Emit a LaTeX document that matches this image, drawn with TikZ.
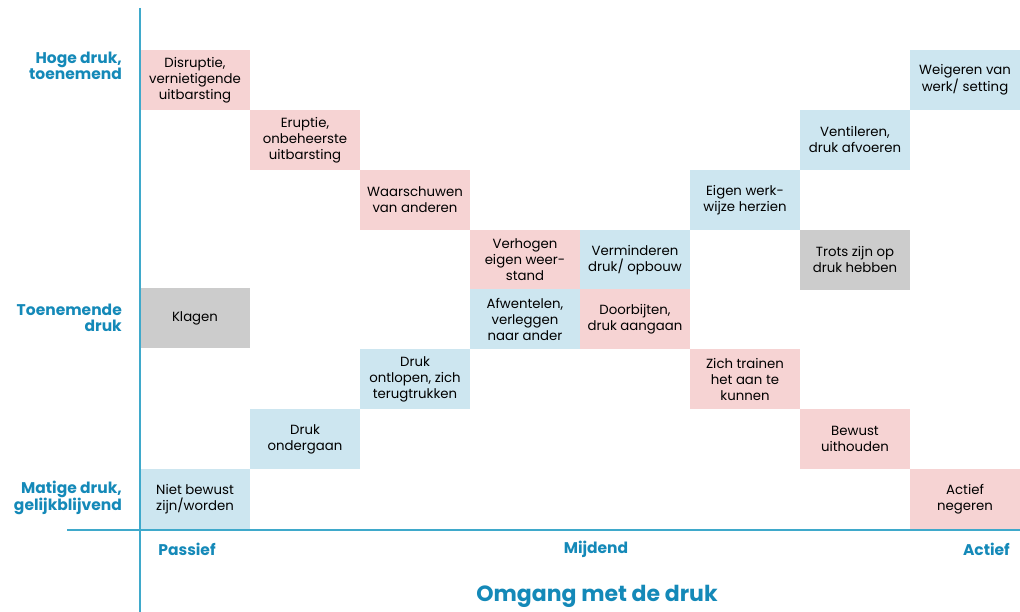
\documentclass[tikz,border=0pt]{standalone}
\usepackage{fontspec}
\setmainfont{Poppins}
\definecolor{cellpink}{HTML}{F6D3D3}
\definecolor{cellblue}{HTML}{CDE6F0}
\definecolor{cellgray}{HTML}{CCCCCC}
\definecolor{axisblue}{HTML}{3FA9CB}
\definecolor{labelblue}{HTML}{1489B8}
\tikzset{
  cell/.style={rectangle,minimum width=110pt,minimum height=60pt,inner sep=0pt,
    align=center,font=\fontsize{13.3}{16}\selectfont},
  pink/.style={cell,fill=cellpink},
  blue/.style={cell,fill=cellblue},
  gray/.style={cell,fill=cellgray},
  axislabel/.style={text=labelblue,font=\fontsize{15.5}{16}\selectfont\bfseries,inner sep=0pt}
}
\begin{document}
\begin{tikzpicture}[x=1pt,y=-1pt]
      \useasboundingbox (0,0) rectangle (1020,612);
      % cells
      \node [pink] (disruptie) at (195,80) {Disruptie,\\vernietigende\\uitbarsting};
      \node [pink] (eruptie) at (305,140) {Eruptie,\\onbeheerste\\uitbarsting};
      \node [pink] (waarschuwen) at (415,200) {Waarschuwen\\van anderen};
      \node [pink] (verhogen) at (525,260) {Verhogen\\eigen weer-\\stand};
      \node [blue] (verminderen) at (635,260) {Verminderen\\druk/ opbouw};
      \node [blue] (herzien) at (745,200) {Eigen werk-\\wijze herzien};
      \node [blue] (ventileren) at (855,140) {Ventileren,\\druk afvoeren};
      \node [blue] (weigeren) at (965,80) {Weigeren van\\werk/ setting};
      \node [gray] (trots) at (855,260) {Trots zijn op\\druk hebben};
      \node [gray] (klagen) at (195,318) {Klagen};
      \node [blue] (afwentelen) at (525,319) {Afwentelen,\\verleggen\\naar ander};
      \node [pink] (doorbijten) at (635,319) {Doorbijten,\\druk aangaan};
      \node [blue] (ontlopen) at (415,379) {Druk\\ontlopen, zich\\terugtrukken};
      \node [pink] (trainen) at (745,379) {Zich trainen\\het aan te\\kunnen};
      \node [blue] (ondergaan) at (305,439) {Druk\\ondergaan};
      \node [pink] (uithouden) at (855,439) {Bewust\\uithouden};
      \node [blue] (nietbewust) at (195,499) {Niet bewust\\zijn/worden};
      \node [pink] (negeren) at (965,499) {Actief\\negeren};

      % axes
      \coordinate (ytop) at (140,8);
      \coordinate (ybot) at (140,612);
      \coordinate (xleft) at (67,530);
      \coordinate (xright) at (1020,530);
      \draw [axisblue,line width=1.8pt] (ytop) -- (ybot);
      \draw [axisblue,line width=1.8pt] (xleft) -- (xright);

      % labels
      \node [axislabel,align=right,anchor=east] (hoog) at (122,66) {Hoge druk,\\toenemend};
      \node [axislabel,align=right,anchor=east] (toenemend) at (122,318) {Toenemende\\druk};
      \node [axislabel,align=right,anchor=east] (matig) at (122,498) {Matige druk,\\gelijkblijvend};
      \node [axislabel] (passief) at (187,549) {Passief};
      \node [axislabel] (mijdend) at (596,549) {Mijdend};
      \node [axislabel,anchor=east] (actief) at (1010,549) {Actief};
      \node [axislabel,font=\fontsize{22}{22}\selectfont\bfseries] (omgang) at (597,596) {Omgang met de druk};
    \end{tikzpicture}
\end{document}
